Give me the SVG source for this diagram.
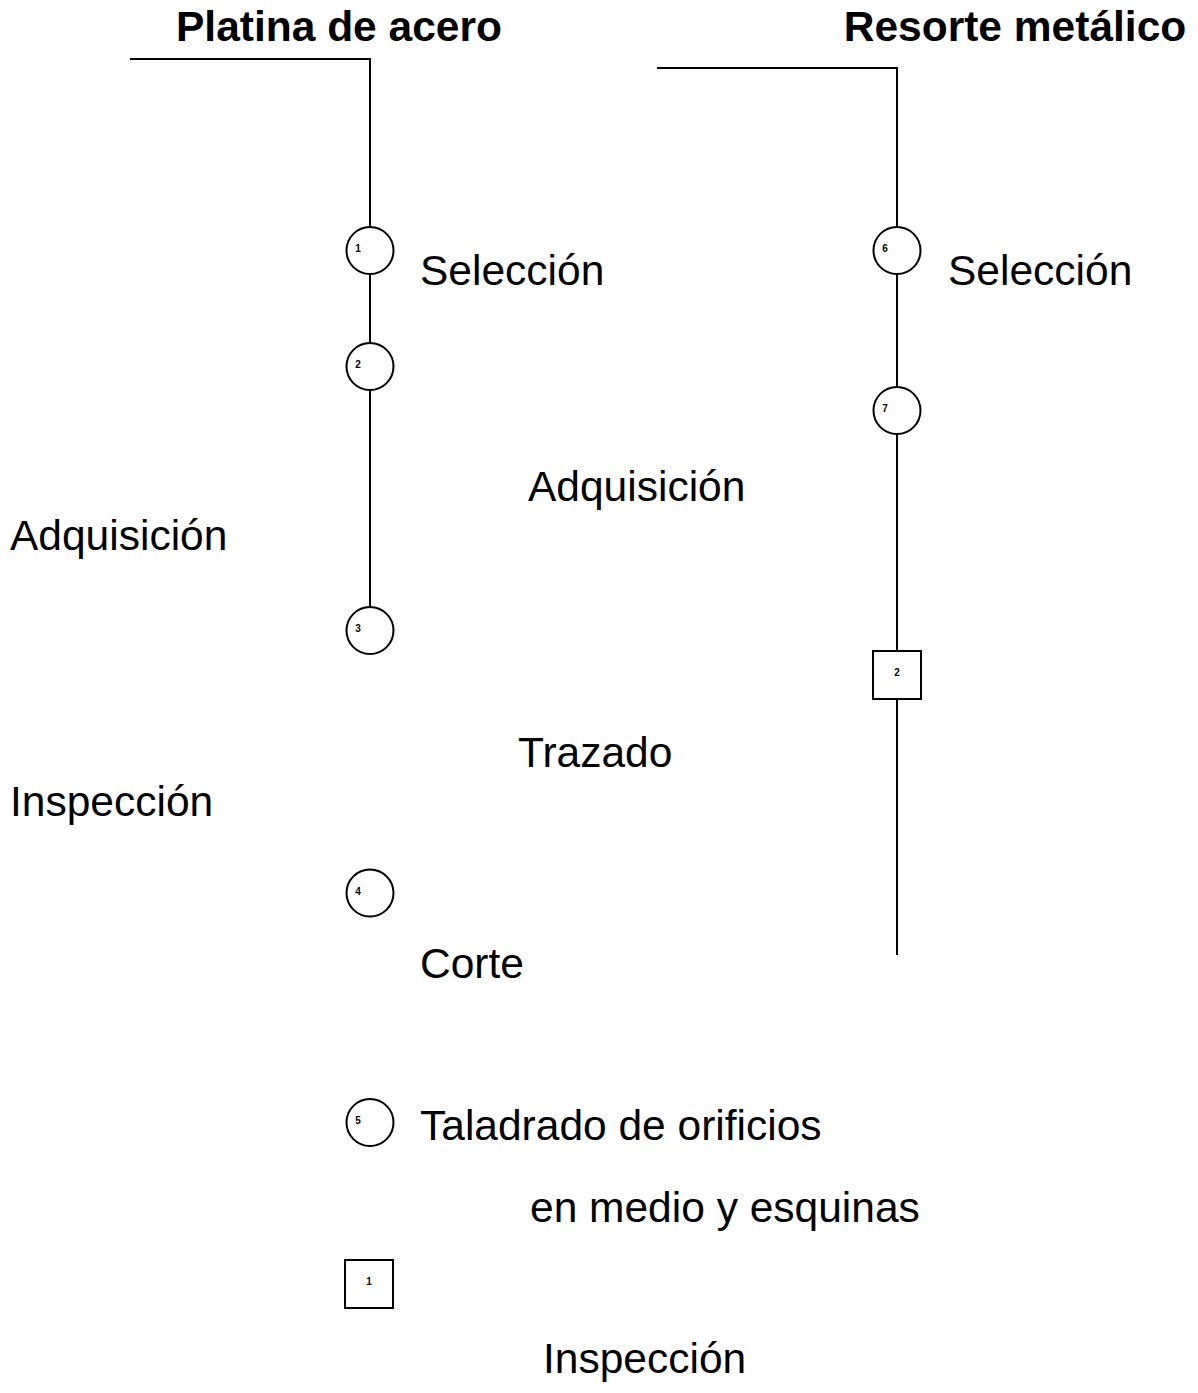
<svg xmlns="http://www.w3.org/2000/svg" width="1198" height="1393" viewBox="0 0 1198 1393">
<style>
.bg{fill:#fff}
.ln{stroke:#000;stroke-width:2;fill:none}
.nd{stroke:#000;stroke-width:2;fill:#fff}
.num{font-family:"Liberation Sans",Arial,sans-serif;font-size:10px;font-weight:bold;fill:#000}
.lbl{font-family:"Liberation Sans",Arial,sans-serif;font-size:42.5px;fill:#000}
.ttl{font-family:"Liberation Sans",Arial,sans-serif;font-size:42.5px;font-weight:bold;fill:#000}
</style>
<rect class="bg" x="0" y="0" width="1198" height="1393"/>
<g id="connectors">
<polyline class="ln" points="130,59 370,59 370,227"/>
<line class="ln" x1="370" y1="274" x2="370" y2="343"/>
<line class="ln" x1="370" y1="390" x2="370" y2="607"/>
<polyline class="ln" points="657,68 897,68 897,227"/>
<line class="ln" x1="897" y1="274" x2="897" y2="387"/>
<line class="ln" x1="897" y1="434" x2="897" y2="651"/>
<line class="ln" x1="897" y1="699" x2="897" y2="955"/>
</g>
<g id="titles">
<text class="ttl" x="339" y="41" text-anchor="middle">Platina de acero</text>
<text class="ttl" x="1015" y="41" text-anchor="middle">Resorte metálico</text>
</g>
<g id="n1"><circle class="nd" cx="370" cy="250.5" r="23.5"/><text class="num" x="358" y="251.5" text-anchor="middle">1</text></g>
<g id="n2"><circle class="nd" cx="370" cy="366.5" r="23.5"/><text class="num" x="358" y="367.5" text-anchor="middle">2</text></g>
<g id="n3"><circle class="nd" cx="370" cy="630.5" r="23.5"/><text class="num" x="358" y="631.5" text-anchor="middle">3</text></g>
<g id="n4"><circle class="nd" cx="370" cy="893" r="23.5"/><text class="num" x="358" y="894.5" text-anchor="middle">4</text></g>
<g id="n5"><circle class="nd" cx="370" cy="1122.5" r="23.5"/><text class="num" x="358" y="1123.5" text-anchor="middle">5</text></g>
<g id="s1"><rect class="nd" x="345" y="1260" width="48" height="48"/><text class="num" x="369" y="1284.5" text-anchor="middle">1</text></g>
<g id="n6"><circle class="nd" cx="897" cy="250.5" r="23.5"/><text class="num" x="885" y="251.5" text-anchor="middle">6</text></g>
<g id="n7"><circle class="nd" cx="897" cy="410.5" r="23.5"/><text class="num" x="885" y="411.5" text-anchor="middle">7</text></g>
<g id="s2"><rect class="nd" x="873" y="651" width="48" height="48"/><text class="num" x="897" y="675.5" text-anchor="middle">2</text></g>
<g id="labels">
<text class="lbl" x="420" y="285">Selección</text>
<text class="lbl" x="948" y="285">Selección</text>
<text class="lbl" x="528" y="501">Adquisición</text>
<text class="lbl" x="10" y="550">Adquisición</text>
<text class="lbl" x="518" y="767">Trazado</text>
<text class="lbl" x="10" y="816">Inspección</text>
<text class="lbl" x="420" y="978">Corte</text>
<text class="lbl" x="420" y="1140">Taladrado de orificios</text>
<text class="lbl" x="530" y="1222">en medio y esquinas</text>
<text class="lbl" x="543" y="1373">Inspección</text>
</g>
</svg>
